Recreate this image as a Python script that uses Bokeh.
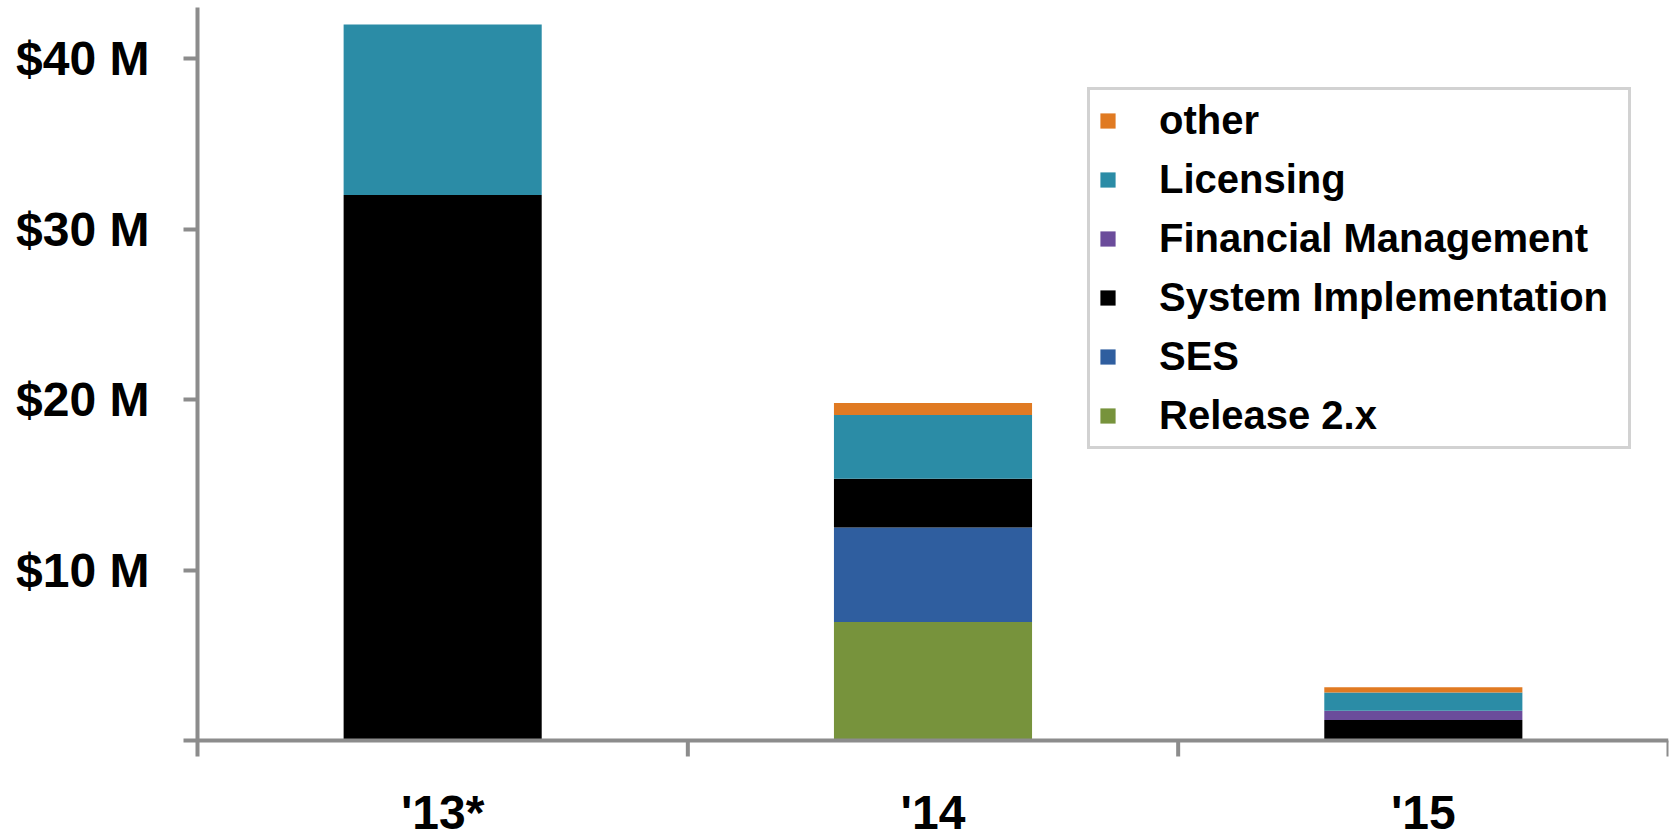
from bokeh.plotting import figure
from bokeh.models import (Range1d, FixedTicker, Legend, LegendItem,
                          ColumnDataSource, LabelSet, Span)
from bokeh.core.properties import value
from bokeh.embed import file_html
from bokeh.resources import INLINE

# ---- data ----
categories = ["'13*", "'14", "'15"]
series = ["Release 2.x", "SES", "System Implementation",
          "Financial Management", "Licensing", "other"]
release_2x = [0.0, 6.95, 0.0]
ses = [0.0, 5.55, 0.0]
system_impl = [32.0, 2.85, 1.2]
financial_mgmt = [0.0, 0.0, 0.55]
licensing = [10.0, 3.75, 1.07]
other = [0.0, 0.7, 0.3]
colors = ["#77933C", "#2F5E9F", "#000000", "#6B4C9B", "#2B8CA6", "#E07A22"]
y_ticks = [0, 10, 20, 30, 40]
y_tick_labels = ["", "$10 M", "$20 M", "$30 M", "$40 M"]

FONT = "Liberation Sans"
AXIS_GREY = "#8C8C8C"
Y_MAX = 43
Y_MIN = -5.81          # room below the baseline for the category names
TICK_LEN = 0.94        # x tick length in data units (~16 px)
LABEL_Y = -5.22        # baseline of category names

n = len(categories)
centers = [i + 0.5 for i in range(n)]
bounds = [i for i in range(1, n + 1)]

data = dict(x=centers)
for name, vals in zip(series, [release_2x, ses, system_impl, financial_mgmt, licensing, other]):
    data[name] = vals
source = ColumnDataSource(data)

p = figure(width=1671, height=839, x_range=Range1d(0, n), y_range=Range1d(Y_MIN, Y_MAX),
           output_backend="svg", toolbar_location=None, x_axis_location=None,
           min_border_left=197, min_border_right=3, min_border_top=7, min_border_bottom=0)
p.background_fill_color = "white"
p.border_fill_color = "white"
p.outline_line_color = None
p.xgrid.visible = False
p.ygrid.visible = False

renderers = p.vbar_stack(series, x="x", width=0.404, fill_color=colors,
                         line_color=None, source=source)

# y axis
ya = p.yaxis[0]
ya.bounds = (-TICK_LEN, Y_MAX)
ya.ticker = FixedTicker(ticks=y_ticks, minor_ticks=[])
ya.major_label_overrides = {t: l for t, l in zip(y_ticks, y_tick_labels)}
ya.axis_line_color = AXIS_GREY
ya.axis_line_width = 4
ya.major_tick_line_color = AXIS_GREY
ya.major_tick_line_width = 4
ya.major_tick_out = 14
ya.major_tick_in = 0
ya.minor_tick_line_color = None
ya.major_label_standoff = 34
ya.major_label_text_font = FONT
ya.major_label_text_font_style = "bold"
ya.major_label_text_font_size = "48px"
ya.major_label_text_color = "black"

# x axis: baseline, tick marks at category boundaries, names centred below bars
p.add_layout(Span(location=0, dimension="width", line_color=AXIS_GREY, line_width=4))
p.segment(x0=bounds, y0=[0] * len(bounds), x1=bounds, y1=[-TICK_LEN] * len(bounds),
          line_color=AXIS_GREY, line_width=4)

label_src = ColumnDataSource(dict(x=centers, y=[LABEL_Y] * n, text=categories))
cat_labels = LabelSet(x="x", y="y", text="text", source=label_src,
                      text_font=value(FONT), text_font_style="bold",
                      text_font_size="48px", text_color="black",
                      text_align="center", text_baseline="alphabetic")
p.add_layout(cat_labels)

items = [LegendItem(label=s, renderers=[r]) for s, r in zip(series, renderers)][::-1]
legend = Legend(items=items, location=(890, 390))
legend.border_line_color = "#A6A6A6"
legend.border_line_width = 3
legend.background_fill_color = "white"
legend.background_fill_alpha = 1.0
legend.padding = 8
legend.margin = 0
legend.spacing = 14
legend.label_height = 45
legend.label_width = 461
legend.glyph_width = 19
legend.glyph_height = 19
legend.label_standoff = 42
legend.label_text_font = FONT
legend.label_text_font_style = "bold"
legend.label_text_font_size = "40px"
legend.label_text_color = "black"
p.add_layout(legend, "center")

open("out.html", "w").write(file_html(p, INLINE))
